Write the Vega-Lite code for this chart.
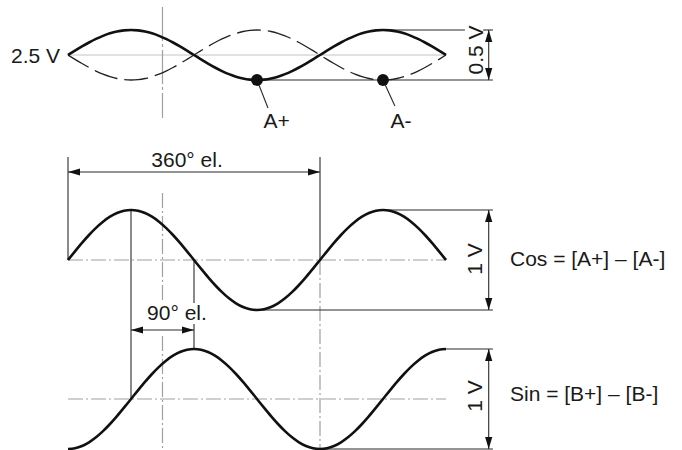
{
  "$schema": "https://vega.github.io/schema/vega-lite/v6.json",
  "width": 682,
  "height": 450,
  "padding": 0,
  "autosize": "none",
  "background": "white",
  "config": {"view": {"stroke": null}},
  "datasets": {
    "curves": [
      {"s":"top","x":0,"y":55},{"s":"top","x":10,"y":50.66},{"s":"top","x":20,"y":46.45},{"s":"top","x":30,"y":42.5},{"s":"top","x":40,"y":38.93},{"s":"top","x":50,"y":35.85},{"s":"top","x":60,"y":33.35},{"s":"top","x":70,"y":31.51},{"s":"top","x":80,"y":30.38},{"s":"top","x":90,"y":30},{"s":"top","x":100,"y":30.38},{"s":"top","x":110,"y":31.51},{"s":"top","x":120,"y":33.35},{"s":"top","x":130,"y":35.85},{"s":"top","x":140,"y":38.93},{"s":"top","x":150,"y":42.5},{"s":"top","x":160,"y":46.45},{"s":"top","x":170,"y":50.66},{"s":"top","x":180,"y":55},{"s":"top","x":190,"y":59.34},{"s":"top","x":200,"y":63.55},{"s":"top","x":210,"y":67.5},{"s":"top","x":220,"y":71.07},{"s":"top","x":230,"y":74.15},{"s":"top","x":240,"y":76.65},{"s":"top","x":250,"y":78.49},{"s":"top","x":260,"y":79.62},{"s":"top","x":270,"y":80},{"s":"top","x":280,"y":79.62},{"s":"top","x":290,"y":78.49},{"s":"top","x":300,"y":76.65},{"s":"top","x":310,"y":74.15},{"s":"top","x":320,"y":71.07},{"s":"top","x":330,"y":67.5},{"s":"top","x":340,"y":63.55},{"s":"top","x":350,"y":59.34},{"s":"top","x":360,"y":55},{"s":"top","x":370,"y":50.66},{"s":"top","x":380,"y":46.45},{"s":"top","x":390,"y":42.5},{"s":"top","x":400,"y":38.93},{"s":"top","x":410,"y":35.85},{"s":"top","x":420,"y":33.35},{"s":"top","x":430,"y":31.51},{"s":"top","x":440,"y":30.38},{"s":"top","x":450,"y":30},{"s":"top","x":460,"y":30.38},{"s":"top","x":470,"y":31.51},{"s":"top","x":480,"y":33.35},{"s":"top","x":490,"y":35.85},{"s":"top","x":500,"y":38.93},{"s":"top","x":510,"y":42.5},{"s":"top","x":520,"y":46.45},{"s":"top","x":530,"y":50.66},{"s":"top","x":540,"y":55},
      {"s":"inv","x":0,"y":55},{"s":"inv","x":10,"y":59.34},{"s":"inv","x":20,"y":63.55},{"s":"inv","x":30,"y":67.5},{"s":"inv","x":40,"y":71.07},{"s":"inv","x":50,"y":74.15},{"s":"inv","x":60,"y":76.65},{"s":"inv","x":70,"y":78.49},{"s":"inv","x":80,"y":79.62},{"s":"inv","x":90,"y":80},{"s":"inv","x":100,"y":79.62},{"s":"inv","x":110,"y":78.49},{"s":"inv","x":120,"y":76.65},{"s":"inv","x":130,"y":74.15},{"s":"inv","x":140,"y":71.07},{"s":"inv","x":150,"y":67.5},{"s":"inv","x":160,"y":63.55},{"s":"inv","x":170,"y":59.34},{"s":"inv","x":180,"y":55},{"s":"inv","x":190,"y":50.66},{"s":"inv","x":200,"y":46.45},{"s":"inv","x":210,"y":42.5},{"s":"inv","x":220,"y":38.93},{"s":"inv","x":230,"y":35.85},{"s":"inv","x":240,"y":33.35},{"s":"inv","x":250,"y":31.51},{"s":"inv","x":260,"y":30.38},{"s":"inv","x":270,"y":30},{"s":"inv","x":280,"y":30.38},{"s":"inv","x":290,"y":31.51},{"s":"inv","x":300,"y":33.35},{"s":"inv","x":310,"y":35.85},{"s":"inv","x":320,"y":38.93},{"s":"inv","x":330,"y":42.5},{"s":"inv","x":340,"y":46.45},{"s":"inv","x":350,"y":50.66},{"s":"inv","x":360,"y":55},{"s":"inv","x":370,"y":59.34},{"s":"inv","x":380,"y":63.55},{"s":"inv","x":390,"y":67.5},{"s":"inv","x":400,"y":71.07},{"s":"inv","x":410,"y":74.15},{"s":"inv","x":420,"y":76.65},{"s":"inv","x":430,"y":78.49},{"s":"inv","x":440,"y":79.62},{"s":"inv","x":450,"y":80},{"s":"inv","x":460,"y":79.62},{"s":"inv","x":470,"y":78.49},{"s":"inv","x":480,"y":76.65},{"s":"inv","x":490,"y":74.15},{"s":"inv","x":500,"y":71.07},{"s":"inv","x":510,"y":67.5},{"s":"inv","x":520,"y":63.55},{"s":"inv","x":530,"y":59.34},{"s":"inv","x":540,"y":55},
      {"s":"cos","x":0,"y":260},{"s":"cos","x":10,"y":251.32},{"s":"cos","x":20,"y":242.9},{"s":"cos","x":30,"y":235},{"s":"cos","x":40,"y":227.86},{"s":"cos","x":50,"y":221.7},{"s":"cos","x":60,"y":216.7},{"s":"cos","x":70,"y":213.01},{"s":"cos","x":80,"y":210.76},{"s":"cos","x":90,"y":210},{"s":"cos","x":100,"y":210.76},{"s":"cos","x":110,"y":213.01},{"s":"cos","x":120,"y":216.7},{"s":"cos","x":130,"y":221.7},{"s":"cos","x":140,"y":227.86},{"s":"cos","x":150,"y":235},{"s":"cos","x":160,"y":242.9},{"s":"cos","x":170,"y":251.32},{"s":"cos","x":180,"y":260},{"s":"cos","x":190,"y":268.68},{"s":"cos","x":200,"y":277.1},{"s":"cos","x":210,"y":285},{"s":"cos","x":220,"y":292.14},{"s":"cos","x":230,"y":298.3},{"s":"cos","x":240,"y":303.3},{"s":"cos","x":250,"y":306.99},{"s":"cos","x":260,"y":309.24},{"s":"cos","x":270,"y":310},{"s":"cos","x":280,"y":309.24},{"s":"cos","x":290,"y":306.99},{"s":"cos","x":300,"y":303.3},{"s":"cos","x":310,"y":298.3},{"s":"cos","x":320,"y":292.14},{"s":"cos","x":330,"y":285},{"s":"cos","x":340,"y":277.1},{"s":"cos","x":350,"y":268.68},{"s":"cos","x":360,"y":260},{"s":"cos","x":370,"y":251.32},{"s":"cos","x":380,"y":242.9},{"s":"cos","x":390,"y":235},{"s":"cos","x":400,"y":227.86},{"s":"cos","x":410,"y":221.7},{"s":"cos","x":420,"y":216.7},{"s":"cos","x":430,"y":213.01},{"s":"cos","x":440,"y":210.76},{"s":"cos","x":450,"y":210},{"s":"cos","x":460,"y":210.76},{"s":"cos","x":470,"y":213.01},{"s":"cos","x":480,"y":216.7},{"s":"cos","x":490,"y":221.7},{"s":"cos","x":500,"y":227.86},{"s":"cos","x":510,"y":235},{"s":"cos","x":520,"y":242.9},{"s":"cos","x":530,"y":251.32},{"s":"cos","x":540,"y":260},
      {"s":"sin","x":0,"y":449},{"s":"sin","x":10,"y":448.24},{"s":"sin","x":20,"y":445.98},{"s":"sin","x":30,"y":442.3},{"s":"sin","x":40,"y":437.3},{"s":"sin","x":50,"y":431.14},{"s":"sin","x":60,"y":424},{"s":"sin","x":70,"y":416.1},{"s":"sin","x":80,"y":407.68},{"s":"sin","x":90,"y":399},{"s":"sin","x":100,"y":390.32},{"s":"sin","x":110,"y":381.9},{"s":"sin","x":120,"y":374},{"s":"sin","x":130,"y":366.86},{"s":"sin","x":140,"y":360.7},{"s":"sin","x":150,"y":355.7},{"s":"sin","x":160,"y":352.02},{"s":"sin","x":170,"y":349.76},{"s":"sin","x":180,"y":349},{"s":"sin","x":190,"y":349.76},{"s":"sin","x":200,"y":352.02},{"s":"sin","x":210,"y":355.7},{"s":"sin","x":220,"y":360.7},{"s":"sin","x":230,"y":366.86},{"s":"sin","x":240,"y":374},{"s":"sin","x":250,"y":381.9},{"s":"sin","x":260,"y":390.32},{"s":"sin","x":270,"y":399},{"s":"sin","x":280,"y":407.68},{"s":"sin","x":290,"y":416.1},{"s":"sin","x":300,"y":424},{"s":"sin","x":310,"y":431.14},{"s":"sin","x":320,"y":437.3},{"s":"sin","x":330,"y":442.3},{"s":"sin","x":340,"y":445.98},{"s":"sin","x":350,"y":448.24},{"s":"sin","x":360,"y":449},{"s":"sin","x":370,"y":448.24},{"s":"sin","x":380,"y":445.98},{"s":"sin","x":390,"y":442.3},{"s":"sin","x":400,"y":437.3},{"s":"sin","x":410,"y":431.14},{"s":"sin","x":420,"y":424},{"s":"sin","x":430,"y":416.1},{"s":"sin","x":440,"y":407.68},{"s":"sin","x":450,"y":399},{"s":"sin","x":460,"y":390.32},{"s":"sin","x":470,"y":381.9},{"s":"sin","x":480,"y":374},{"s":"sin","x":490,"y":366.86},{"s":"sin","x":500,"y":360.7},{"s":"sin","x":510,"y":355.7},{"s":"sin","x":520,"y":352.02},{"s":"sin","x":530,"y":349.76},{"s":"sin","x":540,"y":349}
    ],
    "thin": [
      {"x":450,"y":30,"x2":567,"y2":30},
      {"x":593,"y":30,"x2":607,"y2":30},
      {"x":270,"y":80,"x2":607,"y2":80},
      {"x":450,"y":210,"x2":607,"y2":210},
      {"x":270,"y":310,"x2":607,"y2":310},
      {"x":540,"y":349,"x2":607,"y2":349},
      {"x":360,"y":449,"x2":607,"y2":449},
      {"x":601,"y":30,"x2":601,"y2":80},
      {"x":601,"y":210,"x2":601,"y2":310},
      {"x":601,"y":349,"x2":601,"y2":449},
      {"x":0,"y":172,"x2":360,"y2":172},
      {"x":90,"y":330,"x2":180,"y2":330},
      {"x":0,"y":157,"x2":0,"y2":260},
      {"x":360,"y":157,"x2":360,"y2":260},
      {"x":90,"y":210,"x2":90,"y2":399},
      {"x":180,"y":260,"x2":180,"y2":303},
      {"x":180,"y":324,"x2":180,"y2":349},
      {"x":270,"y":80,"x2":285.7,"y2":108},
      {"x":450,"y":80,"x2":467,"y2":106}
    ],
    "centre": [
      {"x":135,"y":193,"x2":135,"y2":301},
      {"x":135,"y":336,"x2":135,"y2":450},
      {"x":360,"y":260,"x2":360,"y2":450},
      {"x":0,"y":260,"x2":540,"y2":260},
      {"x":0,"y":399,"x2":540,"y2":399}
    ],
    "centreTop": [
      {"x":135,"y":7,"x2":135,"y2":118}
    ],
    "ref": [
      {"x":3,"y":55,"x2":540,"y2":55}
    ],
    "arrows": [
      {"x":601,"y":30,"dir":"up"},{"x":601,"y":80,"dir":"down"},
      {"x":601,"y":210,"dir":"up"},{"x":601,"y":310,"dir":"down"},
      {"x":601,"y":349,"dir":"up"},{"x":601,"y":449,"dir":"down"},
      {"x":0,"y":172,"dir":"left"},{"x":360,"y":172,"dir":"right"},
      {"x":90,"y":330,"dir":"left"},{"x":180,"y":330,"dir":"right"}
    ],
    "dots": [
      {"x":270,"y":80,"name":"A+"},{"x":450,"y":80,"name":"A-"}
    ],
    "labelsCenter": [
      {"x":170,"y":167,"t":"360° el."},
      {"x":155.7,"y":320,"t":"90° el."},
      {"x":297.9,"y":128,"t":"A+"},
      {"x":475.7,"y":128,"t":"A-"}
    ],
    "labelsRight": [
      {"x":-11.4,"y":63,"t":"2.5 V"}
    ],
    "labelsLeft": [
      {"x":631.4,"y":266,"t":"Cos = [A+] – [A-]"},
      {"x":631.4,"y":401,"t":"Sin = [B+] – [B-]"}
    ],
    "labelsRot": [
      {"x":584.3,"y":50,"t":"0.5 V"},
      {"x":582.9,"y":259,"t":"1 V"},
      {"x":582.9,"y":396,"t":"1 V"}
    ]
  },
  "encoding": {
    "x": {"field":"x","type":"quantitative","axis":null,"scale":{"domain":[-97.142857,877.142857],"nice":false,"zero":false}},
    "y": {"field":"y","type":"quantitative","axis":null,"scale":{"domain":[0,450],"reverse":true,"nice":false,"zero":false}}
  },
  "layer": [
    {"data":{"name":"ref"},"mark":{"type":"rule","color":"#c4c4c4","strokeWidth":1},"encoding":{"x2":{"field":"x2"},"y2":{"field":"y2"}}},
    {"data":{"name":"centreTop"},"mark":{"type":"rule","color":"#a0a0a0","strokeWidth":1.2,"strokeDash":[34,3,3,3]},"encoding":{"x2":{"field":"x2"},"y2":{"field":"y2"}}},
    {"data":{"name":"centre"},"mark":{"type":"rule","color":"#a0a0a0","strokeWidth":1.2,"strokeDash":[15,3,2,3]},"encoding":{"x2":{"field":"x2"},"y2":{"field":"y2"}}},
    {"data":{"name":"thin"},"mark":{"type":"rule","color":"#2a2a2a","strokeWidth":1.1},"encoding":{"x2":{"field":"x2"},"y2":{"field":"y2"}}},
    {"data":{"name":"curves"},"transform":[{"filter":"datum.s == 'inv'"}],"mark":{"type":"line","color":"#222","strokeWidth":1.3,"strokeDash":[24,7],"interpolate":"monotone"},"encoding":{"detail":{"field":"s"}}},
    {"data":{"name":"curves"},"transform":[{"filter":"datum.s != 'inv'"}],"mark":{"type":"line","color":"#111","strokeWidth":2.6,"interpolate":"monotone"},"encoding":{"detail":{"field":"s"}}},
    {"data":{"name":"dots"},"mark":{"type":"circle","color":"#111","size":140,"opacity":1}},
    {"data":{"name":"arrows"},"mark":{"type":"point","filled":true,"color":"#111","size":576,"opacity":1,"strokeWidth":0},"encoding":{"shape":{"field":"dir","type":"nominal","legend":null,"scale":{"domain":["up","down","left","right"],"range":["M0,0L0.3,1L-0.3,1Z","M0,0L0.3,-1L-0.3,-1Z","M0,0L1,0.3L1,-0.3Z","M0,0L-1,0.3L-1,-0.3Z"]}}}},
    {"data":{"name":"labelsCenter"},"mark":{"type":"text","font":"Liberation Sans","fontSize":21,"color":"#1a1a1a","align":"center","baseline":"alphabetic"},"encoding":{"text":{"field":"t"}}},
    {"data":{"name":"labelsRight"},"mark":{"type":"text","font":"Liberation Sans","fontSize":21,"color":"#1a1a1a","align":"right","baseline":"alphabetic"},"encoding":{"text":{"field":"t"}}},
    {"data":{"name":"labelsLeft"},"mark":{"type":"text","font":"Liberation Sans","fontSize":21,"color":"#1a1a1a","align":"left","baseline":"alphabetic"},"encoding":{"text":{"field":"t"}}},
    {"data":{"name":"labelsRot"},"mark":{"type":"text","font":"Liberation Sans","fontSize":21,"color":"#1a1a1a","align":"center","baseline":"middle","angle":270},"encoding":{"text":{"field":"t"}}}
  ]
}
